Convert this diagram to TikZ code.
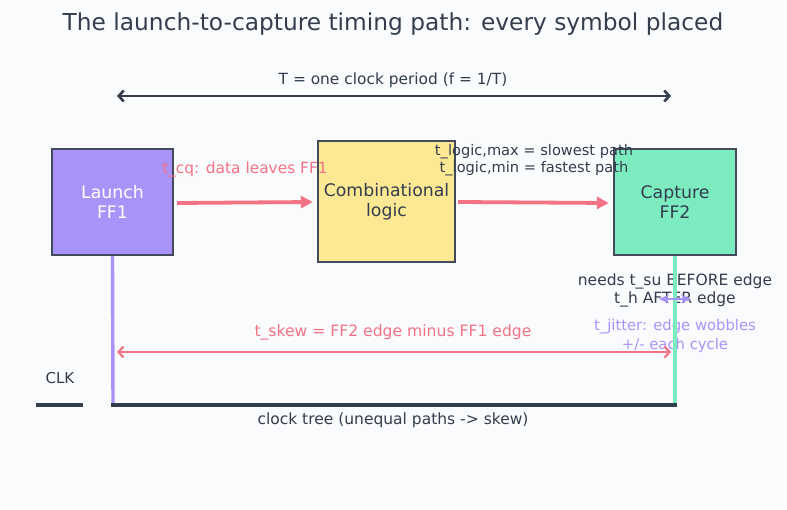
\documentclass[tikz,border=0pt]{standalone}
\usepackage{fontspec}
\setmainfont{DejaVu Sans}
\usetikzlibrary{arrows.meta}
\definecolor{bg}{HTML}{FAFBFD}
\definecolor{ink}{HTML}{333D4D}
\definecolor{edge}{HTML}{434B5A}
\definecolor{purp}{HTML}{A993F9}
\definecolor{yel}{HTML}{FDE893}
\definecolor{grn}{HTML}{7DEBC0}
\definecolor{pink}{HTML}{F37385}
\tikzset{
  box/.style={draw=edge, line width=2.4pt, inner sep=0pt, align=center, font=\fontsize{17.3}{20.5}\selectfont},
  lbl/.style={align=center, text=ink, inner sep=0pt},
  dataarrow/.style={draw=pink, line width=3.8pt, -{Triangle[length=12pt,width=12pt]}},
  span/.style={line width=2.6pt, {Straight Barb[length=5pt,width=11pt]}-{Straight Barb[length=5pt,width=11pt]}},
  wire/.style={line width=3.4pt},
}
\begin{document}
\begin{tikzpicture}[x=1pt,y=-1pt]
\fill[bg] (0,0) rectangle (787,510);
\useasboundingbox (0,0) rectangle (787,510);
% title
\node[lbl, font=\fontsize{23.3}{27}\selectfont] (title) at (393,24) {The launch-to-capture timing path: every symbol placed};
% period
\coordinate (tl) at (117,96);
\coordinate (tr) at (671,96);
\draw[span, draw=ink] (tl) -- (tr);
\node[lbl, font=\fontsize{15.4}{18}\selectfont] (tlab) at (393,80) {T = one clock period (f = 1/T)};
% boxes
\node[box, fill=purp, text=white, minimum width=121pt, minimum height=106pt] (ff1) at (112.5,202) {Launch\\FF1};
\node[box, fill=yel, text=ink, minimum width=137pt, minimum height=121pt] (comb) at (386.5,201.5) {Combinational\\logic};
\node[box, fill=grn, text=ink, minimum width=122pt, minimum height=106pt] (ff2) at (675,202) {Capture\\FF2};
% data arrows
\draw[dataarrow] ([xshift=3pt,yshift=-1pt]ff1.east) -- ([xshift=-4pt,yshift=-0.5pt]comb.west);
\draw[dataarrow] ([xshift=2pt,yshift=-0.5pt]comb.east) -- ([xshift=-4pt,yshift=-1pt]ff2.west);
\node[lbl, text=pink, font=\fontsize{15.4}{18}\selectfont] (tcq) at (245,169) {t\_cq: data leaves FF1};
\node[lbl, font=\fontsize{14.6}{17}\selectfont] (tlog) at (534,160.5) {t\_logic,max = slowest path\\t\_logic,min = fastest path};
% clock tree
\coordinate (c1) at (113,405);
\coordinate (c2) at (675,405);
\coordinate (k1) at (36,405);
\coordinate (k2) at (83,405);
\draw[wire, draw=ink] (k1) -- (k2);
\node[lbl, font=\fontsize{15}{18}\selectfont] (clk) at (60,378) {CLK};
\node[lbl, font=\fontsize{15.5}{18}\selectfont] (tree) at (393,420) {clock tree (unequal paths -> skew)};
% texts near FF2
\node[lbl, font=\fontsize{15.5}{18}\selectfont] (su) at (675,290) {needs t\_su BEFORE edge\\t\_h AFTER edge};
\node[lbl, text=purp, font=\fontsize{14.8}{19}\selectfont] (jit) at (675,335.5) {t\_jitter: edge wobbles\\+/- each cycle};
\draw[wire, draw=purp] (ff1.south) -- (c1);
\draw[wire, draw=grn] (ff2.south) -- (c2);
\draw[wire, draw=ink] ([xshift=-1.7pt]c1) -- ([xshift=1.7pt]c2);
% jitter marker
\coordinate (j1) at (659,299);
\coordinate (j2) at (691,299);
\draw[draw=purp, line width=2.8pt, {Stealth[length=10pt,width=9pt]}-{Stealth[length=10pt,width=9pt]}] (j1) -- (j2);
% skew
\coordinate (s1) at (117,352);
\coordinate (s2) at (671,352);
\draw[span, draw=pink, line width=2.2pt] (s1) -- (s2);
\node[lbl, text=pink, font=\fontsize{15.6}{18}\selectfont] (skew) at (393,332) {t\_skew = FF2 edge minus FF1 edge};
\end{tikzpicture}
\end{document}
